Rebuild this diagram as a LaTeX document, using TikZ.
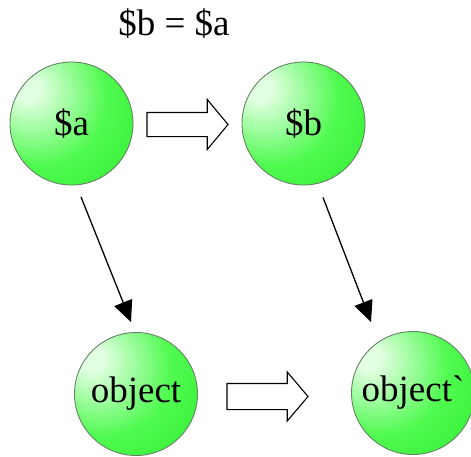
\documentclass[tikz,border=0pt]{standalone}
\usepackage{fontspec}
\setmainfont{Liberation Serif}
\usepackage{tikz}
\usetikzlibrary{shapes, shapes.arrows, arrows.meta, positioning}

\definecolor{ballhl}{RGB}{225,255,225}
\definecolor{ballmid}{RGB}{80,250,80}
\definecolor{balledge}{RGB}{40,235,40}
\definecolor{ballborder}{RGB}{100,130,100}
\pgfdeclareradialshading{greenball}{\pgfpoint{-19bp}{15bp}}{%
  color(0bp)=(ballhl); color(5bp)=(ballhl); color(28bp)=(ballmid);
  color(55bp)=(balledge); color(100bp)=(balledge)}

\tikzset{
  ball/.style={circle, draw=ballborder, line width=0.9pt, shading=greenball,
    minimum size=123pt, inner sep=0pt},
  hollow/.style={single arrow, draw=black, fill=white, line width=1.1pt,
    inner xsep=0pt, outer sep=0pt, single arrow head indent=0pt,
    minimum height=81pt},
  link/.style={line width=1.3pt, -{Triangle[length=21pt,width=19pt]}}
}

\begin{document}
\begin{tikzpicture}[x=1pt, y=-1pt, node distance=232pt, font=\fontsize{37}{44}\selectfont]
    \useasboundingbox (0,0) rectangle (471,456);
    \node[anchor=base] (assign) at (174,35) {\$b = \$a};

    \node[ball] (a) at (71.5,123.5) {\$a};
    \node[ball, right of=a] (b) {\$b};
    \node[ball] (obj) at (136,394) {object};
    \node[ball] (objp) at (413,393) {object\textasciigrave};

    \node[hollow, inner ysep=11.5pt, single arrow head extend=13pt,
      single arrow tip angle=100.6, anchor=tail] (copyab) at (147,124.5) {};
    \node[hollow, inner ysep=12.5pt, single arrow head extend=11.5pt,
      single arrow tip angle=99.5, anchor=tail] (copyobj) at (227,396.5) {};

    \draw[link] ([shift={(9.5,11.5)}]a.south) -- ([shift={(-5,-10)}]obj.north);
    \draw[link] ([shift={(19.5,12)}]b.south) -- ([shift={(-42,-9)}]objp.north);
\end{tikzpicture}
\end{document}
